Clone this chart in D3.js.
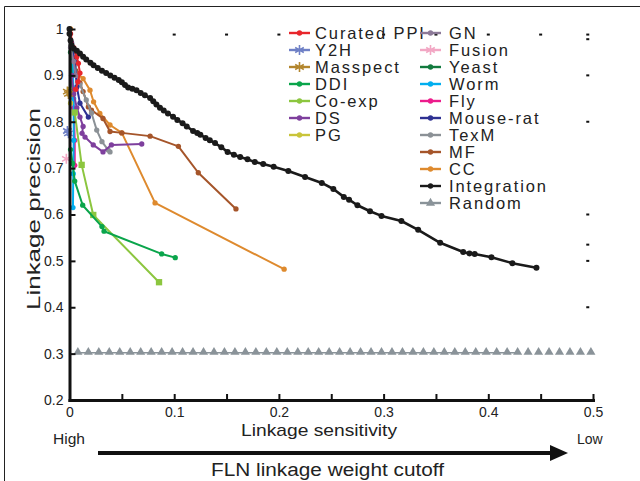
<!DOCTYPE html>
<html>
<head>
<meta charset="utf-8">
<script src="https://cdn.jsdelivr.net/npm/d3@7"></script>
<style>
    body { margin: 0; background: #fff; }
    svg { display: block; font-family: "Liberation Sans", Arial, sans-serif; }
</style>
</head>
<body>
<div id="chart"></div>
<script>
// [linkage sensitivity, linkage precision] pairs
var curatedPPI = [[0.001, 0.99], [0.004, 0.96], [0.007, 0.94], [0.0085, 0.926], [0.01, 0.905], [0.008, 0.886], [0.006, 0.87]];
var y2h = [[-0.002, 0.78], [-0.001, 0.775]];
var masspect = [[-0.002, 0.865], [-0.001, 0.86]];
var ddi = [[0.001, 0.74], [0.003, 0.71], [0.005, 0.672], [0.0126, 0.62], [0.031, 0.574], [0.033, 0.564], [0.088, 0.515], [0.101, 0.507]];
var coExp = [[0.005, 0.82], [0.0116, 0.707], [0.0227, 0.599], [0.0855, 0.454]];
var ds = [[0.002, 0.9], [0.004, 0.86], [0.007, 0.83], [0.01, 0.81], [0.013, 0.79], [0.012, 0.775], [0.0148, 0.767], [0.0227, 0.75], [0.032, 0.735], [0.04, 0.75], [0.069, 0.752]];
var pg = [[0, 0.87], [0.001, 0.84]];
var gn = [[0.001, 0.96], [0.004, 0.93], [0.006, 0.9]];
var fusion = [[-0.003, 0.72]];
var yeast = [[0.001, 0.95], [0.002, 0.9], [0.003, 0.86]];
var worm = [[0.003, 0.93], [0.004, 0.85], [0.004, 0.76], [0.0036, 0.688], [0.0033, 0.615]];
var fly = [[0.003, 0.9], [0.004, 0.83], [0.005, 0.76], [0.005, 0.706]];
var mouseRat = [[0.002, 0.97], [0.005, 0.93], [0.007, 0.875], [0.01, 0.84], [0.018, 0.81]];
var texM = [[0.005, 0.92], [0.01, 0.88], [0.016, 0.847], [0.021, 0.819], [0.026, 0.782], [0.031, 0.757], [0.037, 0.739], [0.0387, 0.735]];
var mf = [[0.003, 0.95], [0.006, 0.91], [0.01, 0.884], [0.013, 0.865], [0.018, 0.832], [0.021, 0.825], [0.032, 0.807], [0.0387, 0.779], [0.05, 0.776], [0.077, 0.769], [0.104, 0.747], [0.123, 0.69], [0.159, 0.612]];
var cc = [[0.001, 1.0], [0.002, 0.96], [0.005, 0.908], [0.013, 0.893], [0.0196, 0.868], [0.023, 0.843], [0.029, 0.818], [0.0387, 0.793], [0.05, 0.776], [0.0817, 0.625], [0.205, 0.482]];
var integration = [[0, 1.0], [0, 0.99], [0.001, 0.975], [0.002, 0.965], [0.004, 0.958], [0.007, 0.953], [0.01, 0.947], [0.013, 0.94],
    [0.016, 0.934], [0.02, 0.927], [0.023, 0.922], [0.027, 0.916], [0.031, 0.91], [0.035, 0.905], [0.039, 0.9], [0.043, 0.895],
    [0.047, 0.89], [0.05, 0.885], [0.053, 0.879], [0.056, 0.874], [0.06, 0.871], [0.064, 0.868], [0.068, 0.862], [0.072, 0.857],
    [0.077, 0.851], [0.08, 0.844], [0.083, 0.837], [0.0864, 0.83], [0.09, 0.824], [0.094, 0.818], [0.0989, 0.811], [0.103, 0.804],
    [0.108, 0.797], [0.112, 0.79], [0.118, 0.78], [0.122, 0.776], [0.125, 0.772], [0.13, 0.765], [0.134, 0.76], [0.139, 0.754],
    [0.145, 0.745], [0.151, 0.735], [0.157, 0.729], [0.163, 0.724], [0.17, 0.719], [0.177, 0.713], [0.185, 0.709], [0.195, 0.703],
    [0.209, 0.694], [0.225, 0.681], [0.241, 0.668], [0.252, 0.655], [0.262, 0.638], [0.267, 0.632], [0.275, 0.62], [0.287, 0.607],
    [0.298, 0.597], [0.317, 0.586], [0.333, 0.567], [0.354, 0.539], [0.376, 0.519], [0.382, 0.516], [0.387, 0.515], [0.403, 0.508],
    [0.423, 0.495], [0.446, 0.485]];
var randomSensitivity = [0.008, 0.018, 0.028, 0.038, 0.048, 0.058, 0.068, 0.078, 0.088, 0.098,
    0.108, 0.118, 0.128, 0.138, 0.148, 0.158, 0.168, 0.178, 0.188, 0.198,
    0.208, 0.218, 0.228, 0.238, 0.248, 0.258, 0.268, 0.278, 0.288, 0.298,
    0.308, 0.318, 0.328, 0.338, 0.348, 0.358, 0.368, 0.378, 0.388, 0.398,
    0.408, 0.418, 0.428, 0.438, 0.448, 0.458, 0.468, 0.478, 0.488, 0.498];
var randomPrecision = 0.302;
var randomLineEnd = 0.43;

var seriesNames = ["Curated PPI", "Y2H", "Masspect", "DDI", "Co-exp", "DS", "PG", "GN", "Fusion",
    "Yeast", "Worm", "Fly", "Mouse-rat", "TexM", "MF", "CC", "Integration", "Random"];
var seriesColors = ["#e8262b", "#6f80c6", "#b3862e", "#0aa54b", "#8cc63f", "#7e3f9d", "#c9c43a", "#8c7a98", "#f2a7c4",
    "#127a3e", "#00aeef", "#ec1c8c", "#2e3192", "#8b9196", "#a5552a", "#de8a2e", "#1a1a1a", "#8a9399"];
var seriesMarkers = ["circle", "asterisk", "asterisk", "circle", "square", "circle", "circle", "circle", "asterisk",
    "circle", "circle", "circle", "circle", "circle", "circle", "circle", "circle", "triangle"];

var xTicks = [0, 0.05, 0.1, 0.15, 0.2, 0.25, 0.3, 0.35, 0.4, 0.45, 0.5];
var xTickLabels = ["0", "", "0.1", "", "0.2", "", "0.3", "", "0.4", "", "0.5"];
var yTicks = [0.2, 0.3, 0.4, 0.5, 0.6, 0.7, 0.8, 0.9, 1];
var yTickLabels = ["0.2", "0.3", "0.4", "0.5", "0.6", "0.7", "0.8", "0.9", "1"];
// stray tick stubs of the missing top / right frame
var topStubs = [0.1, 0.15, 0.2, 0.3, 0.35, 0.4, 0.45, 0.495];
var rightStubs = [0.978, 0.9, 0.8, 0.6, 0.535, 0.5, 0.4];

(function() {
    var opts = {
        width: 640,
        height: 481,
        margin: { top: 29, right: 47, bottom: 81, left: 69.5 }
    };

    var svg = d3.select("#chart").append("svg")
        .attr("width", opts.width)
        .attr("height", opts.height);

    var x = d3.scaleLinear()
        .domain([0, 0.5])
        .range([opts.margin.left, opts.width - opts.margin.right]);
    var y = d3.scaleLinear()
        .domain([0.2, 1])
        .range([opts.height - opts.margin.bottom, opts.margin.top]);

    var symbolType = {
        circle: d3.symbolCircle,
        asterisk: d3.symbolAsterisk,
        square: d3.symbolSquare,
        triangle: d3.symbolTriangle
    };
    var symbolSize = { circle: 22, asterisk: 70, square: 40, triangle: 36 };

    function drawMarks(g, type, color) {
        var sym = g.append("path")
            .attr("d", d3.symbol().type(symbolType[type]).size(symbolSize[type]));
        if (type == "asterisk") {
            sym.attr("fill", "none").attr("stroke", color).attr("stroke-width", 1.6);
        } else {
            sym.attr("fill", color);
        }
        return sym;
    }

    var seriesData = [curatedPPI, y2h, masspect, ddi, coExp, ds, pg, gn, fusion,
        yeast, worm, fly, mouseRat, texM, mf, cc, integration, null];

    var series = seriesNames.map(function(name, i) {
        return { name: name, color: seriesColors[i], marker: seriesMarkers[i], values: seriesData[i] };
    });

    // outer frame of the figure
    svg.append("path")
        .attr("d", "M4.5,481 V6.5 H640")
        .attr("fill", "none")
        .attr("stroke", "#222")
        .attr("stroke-width", 1);

    var line = d3.line()
        .x(function(d) { return x(d[0]); })
        .y(function(d) { return y(d[1]); });

    var plot = svg.append("g");

    // random baseline
    var rnd = randomSensitivity.map(function(s) { return [s, randomPrecision]; });
    plot.append("path")
        .attr("d", line(rnd.filter(function(d) { return d[0] <= randomLineEnd; })))
        .attr("fill", "none")
        .attr("stroke", seriesColors[17])
        .attr("stroke-width", 1.5);
    plot.selectAll(".rnd")
        .data(rnd)
        .enter().append("g")
        .attr("class", "rnd")
        .attr("transform", function(d) { return "translate(" + x(d[0]) + "," + (y(d[1]) - 0.5) + ")"; })
        .each(function() { drawMarks(d3.select(this), "triangle", seriesColors[17]); });

    // coloured series, drawn back to front
    var colored = series.slice(0, 16).reverse();
    colored.forEach(function(s) {
        var g = plot.append("g");
        if (s.values.length > 1) {
            g.append("path")
                .attr("d", line(s.values))
                .attr("fill", "none")
                .attr("stroke", s.color)
                .attr("stroke-width", 2)
                .attr("stroke-linejoin", "round");
        }
        g.selectAll("g")
            .data(s.values)
            .enter().append("g")
            .attr("transform", function(d) { return "translate(" + x(d[0]) + "," + y(d[1]) + ")"; })
            .each(function() { drawMarks(d3.select(this), s.marker, s.color); });
    });

    // axes
    var xAxis = svg.append("g")
        .attr("transform", "translate(0," + y(0.2) + ")")
        .call(d3.axisBottom(x)
            .tickValues(xTicks)
            .tickSizeInner(-6)
            .tickSizeOuter(0)
            .tickPadding(7)
            .tickFormat(function(d, i) { return xTickLabels[i]; }));

    var yAxis = svg.append("g")
        .attr("transform", "translate(" + x(0) + ",0)")
        .call(d3.axisLeft(y)
            .tickValues(yTicks)
            .tickSizeInner(-6)
            .tickSizeOuter(0)
            .tickPadding(6)
            .tickFormat(function(d, i) { return yTickLabels[i]; }));

    [xAxis, yAxis].forEach(function(ax) {
        ax.select(".domain").attr("stroke", "#111").attr("stroke-width", 3).attr("stroke-linecap", "square");
        ax.selectAll(".tick line").attr("stroke", "#111").attr("stroke-width", 2);
        ax.selectAll("text")
            .attr("fill", "#222")
            .attr("font-size", 14)
            .attr("font-family", "Liberation Sans, Arial, sans-serif");
    });

    // integration on top
    var ig = svg.append("g");
    ig.append("path")
        .attr("d", line(integration))
        .attr("fill", "none")
        .attr("stroke", seriesColors[16])
        .attr("stroke-width", 2.6)
        .attr("stroke-linejoin", "round");
    ig.selectAll("circle")
        .data(integration)
        .enter().append("circle")
        .attr("cx", function(d) { return x(d[0]); })
        .attr("cy", function(d) { return y(d[1]); })
        .attr("r", 3)
        .attr("fill", seriesColors[16]);

    // stub marks
    svg.selectAll(".stubTop")
        .data(topStubs)
        .enter().append("rect")
        .attr("class", "stubTop")
        .attr("x", function(d) { return x(d) - 1.5; })
        .attr("y", y(0.988) - 1)
        .attr("width", 3)
        .attr("height", 2)
        .attr("fill", "#111");
    svg.selectAll(".stubRight")
        .data(rightStubs)
        .enter().append("rect")
        .attr("class", "stubRight")
        .attr("x", x(0.495) - 1.5)
        .attr("y", function(d) { return y(d) - 1; })
        .attr("width", 3)
        .attr("height", 2)
        .attr("fill", "#111");

    // legend
    var legend = svg.append("g")
        .attr("font-family", "Liberation Sans Narrow, Liberation Sans, Arial, sans-serif")
        .attr("font-size", 16.5)
        .attr("fill", "#222");
    var item = legend.selectAll("g")
        .data(series)
        .enter().append("g")
        .attr("transform", function(d, i) {
            return i < 7 ? "translate(289," + (33 + i * 17) + ")" : "translate(420," + (33 + (i - 7) * 17) + ")";
        });
    item.append("line")
        .attr("x1", 0)
        .attr("x2", 21)
        .attr("stroke", function(d) { return d.color; })
        .attr("stroke-width", 2.4);
    item.append("g")
        .attr("transform", "translate(10.5,0)")
        .each(function(d) { drawMarks(d3.select(this), d.marker == "square" ? "circle" : d.marker, d.color); });
    item.append("text")
        .attr("x", function(d, i) { return i < 7 ? 26 : 29; })
        .attr("dy", "0.36em")
        .attr("letter-spacing", 1.9)
        .text(function(d) { return d.name; });

    // axis titles
    svg.append("text")
        .attr("transform", "translate(40,209) rotate(-90)")
        .attr("text-anchor", "middle")
        .attr("font-size", 18)
        .attr("fill", "#222")
        .attr("textLength", 202)
        .attr("lengthAdjust", "spacingAndGlyphs")
        .text("Linkage precision");
    svg.append("text")
        .attr("x", 319)
        .attr("y", 436)
        .attr("text-anchor", "middle")
        .attr("font-size", 17)
        .attr("fill", "#222")
        .attr("textLength", 156)
        .attr("lengthAdjust", "spacingAndGlyphs")
        .text("Linkage sensitivity");

    // cutoff arrow
    svg.append("text")
        .attr("x", 53)
        .attr("y", 444)
        .attr("font-size", 14)
        .attr("fill", "#222")
        .attr("textLength", 32)
        .attr("lengthAdjust", "spacingAndGlyphs")
        .text("High");
    svg.append("text")
        .attr("x", 577)
        .attr("y", 444)
        .attr("font-size", 14)
        .attr("fill", "#222")
        .text("Low");
    svg.append("line")
        .attr("x1", 98)
        .attr("x2", 553)
        .attr("y1", 453)
        .attr("y2", 453)
        .attr("stroke", "#111")
        .attr("stroke-width", 4);
    svg.append("path")
        .attr("d", "M550,445 L568,453 L550,461 Z")
        .attr("fill", "#111");
    svg.append("text")
        .attr("x", 327.5)
        .attr("y", 476)
        .attr("text-anchor", "middle")
        .attr("font-size", 18)
        .attr("fill", "#222")
        .attr("textLength", 233)
        .attr("lengthAdjust", "spacingAndGlyphs")
        .text("FLN linkage weight cutoff");
})();
</script>
</body>
</html>
